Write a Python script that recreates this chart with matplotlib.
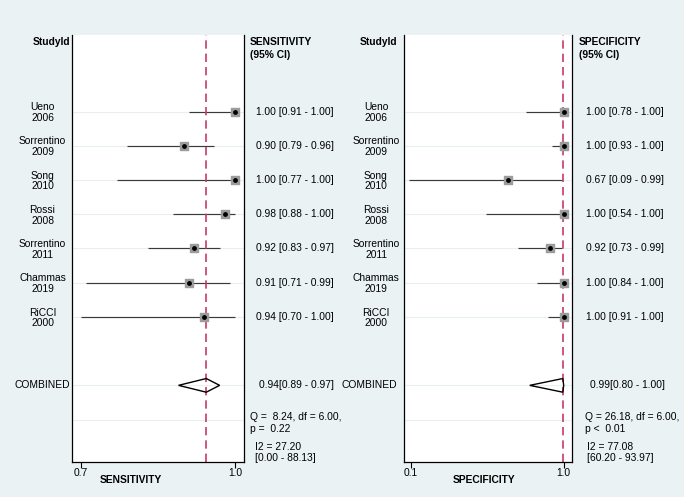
import numpy as np
import matplotlib.pyplot as plt
from matplotlib.transforms import blended_transform_factory

plt.rcParams['font.family'] = ['Liberation Sans', 'DejaVu Sans']

# dados dos estudos
studies = ["Ueno\n2006", "Sorrentino\n2009", "Song\n2010", "Rossi\n2008",
           "Sorrentino\n2011", "Chammas\n2019", "RiCCI\n2000"]

sens = [1.00, 0.90, 1.00, 0.98, 0.92, 0.91, 0.94]
sens_lo = [0.91, 0.79, 0.77, 0.88, 0.83, 0.71, 0.70]
sens_hi = [1.00, 0.96, 1.00, 1.00, 0.97, 0.99, 1.00]
sens_comb = [0.944, 0.89, 0.97]
sens_txt = ["1.00 [0.91 - 1.00]", "0.90 [0.79 - 0.96]", "1.00 [0.77 - 1.00]",
            "0.98 [0.88 - 1.00]", "0.92 [0.83 - 0.97]", "0.91 [0.71 - 0.99]",
            "0.94 [0.70 - 1.00]"]
sens_comb_txt = "0.94[0.89 - 0.97]"
sens_q = "Q =  8.24, df = 6.00,\np =  0.22"
sens_i2 = "I2 = 27.20\n[0.00 - 88.13]"

spec = [1.00, 1.00, 0.67, 1.00, 0.92, 1.00, 1.00]
spec_lo = [0.78, 0.93, 0.09, 0.54, 0.73, 0.84, 0.91]
spec_hi = [1.00, 1.00, 0.99, 1.00, 0.99, 1.00, 1.00]
spec_comb = [0.995, 0.80, 1.00]
spec_txt = ["1.00 [0.78 - 1.00]", "1.00 [0.93 - 1.00]", "0.67 [0.09 - 0.99]",
            "1.00 [0.54 - 1.00]", "0.92 [0.73 - 0.99]", "1.00 [0.84 - 1.00]",
            "1.00 [0.91 - 1.00]"]
spec_comb_txt = "0.99[0.80 - 1.00]"
spec_q = "Q = 26.18, df = 6.00,\np <  0.01"
spec_i2 = "I2 = 77.08\n[60.20 - 93.97]"

W, H = 684, 497
bg = '#eaf2f3'
fs = 7.4

fig = plt.figure(figsize=(W / 100, H / 100), dpi=100, facecolor=bg)


def panel(x0, x1, xlim, ticks, est, lo, hi, comb, txt, comb_txt, qtxt, i2txt,
          title, xlabel, lab_x, lab_r, txt_x, head_x, q_x, i2_x, xlab_x):
    ax = fig.add_axes([x0 / W, 1 - 462 / H, (x1 - x0) / W, (462 - 35) / H])
    ax.set_xlim(*xlim)
    ax.set_ylim(10.24, -2.24)
    ax.set_facecolor('white')
    ax.spines['top'].set_visible(False)
    for s in ['left', 'right', 'bottom']:
        ax.spines[s].set_linewidth(0.9)
    ax.set_yticks([])
    ax.set_xticks(ticks)
    ax.set_xticklabels(["%.1f" % t for t in ticks], fontsize=fs)
    ax.tick_params(axis='x', length=4, width=0.8, pad=0.5)

    tr = blended_transform_factory(fig.transFigure, ax.transData)
    rows = np.arange(len(est))

    # linhas de fundo
    for r in list(rows) + [8, 9]:
        ax.axhline(r, color='#e9eeee', lw=0.8, zorder=0)

    ax.hlines(rows, lo, hi, color='#3a3a3a', lw=0.85, zorder=2)
    ax.scatter(est, rows, marker='s', s=30, color='#9c9c9c', zorder=3)
    ax.scatter(est, rows, marker='o', s=6, color='black', zorder=4)

    # diamante combinado
    c, cl, ch = comb
    ax.fill([cl, c, ch, c], [8, 8 - 0.2, 8, 8 + 0.2], facecolor='none',
            edgecolor='black', lw=1.0, zorder=3)
    ax.axvline(c, color='#c8396a', lw=1.2, ls=(0, (5, 3)), zorder=2.5)

    for r, lab, t in zip(rows, studies, txt):
        ax.text(lab_x / W, r + 0.03, lab, transform=tr, ha='center',
                va='center', fontsize=fs, linespacing=1.1)
        ax.text(txt_x / W, r, t, transform=tr, ha='left', va='center',
                fontsize=fs)

    ax.text(lab_r / W, 8, "COMBINED", transform=tr,
            ha='right', va='center', fontsize=fs)
    ax.text(txt_x / W + 3.5 / W, 8, comb_txt, transform=tr, ha='left',
            va='center', fontsize=fs)
    ax.text(q_x / W, 9.1, qtxt, transform=tr, ha='left', va='center',
            fontsize=fs, linespacing=1.15)
    ax.text(i2_x / W, 9.96, i2txt, transform=tr, ha='left', va='center',
            fontsize=fs, linespacing=1.05)

    ax.text(lab_r / W, -2.03, "StudyId", transform=tr, ha='right',
            va='center', fontsize=fs, fontweight='bold')
    ax.text(head_x / W, -2.03, title, transform=tr, ha='left', va='center',
            fontsize=fs, fontweight='bold')
    ax.text(head_x / W, -1.66, "(95% CI)", transform=tr, ha='left',
            va='center', fontsize=fs, fontweight='bold')

    fig.text(xlab_x / W, 1 - 480 / H, xlabel, ha='center', va='center',
             fontsize=fs, fontweight='bold')
    return ax


panel(72, 244, (0.6825, 1.0175), [0.7, 1.0], sens, sens_lo, sens_hi,
      sens_comb, sens_txt, sens_comb_txt, sens_q, sens_i2,
      "SENSITIVITY", "SENSITIVITY", 42.5, 70, 255.5, 250, 250, 255, 131)

panel(403.7, 572, (0.057, 1.049), [0.1, 1.0], spec, spec_lo, spec_hi,
      spec_comb, spec_txt, spec_comb_txt, spec_q, spec_i2,
      "SPECIFICITY", "SPECIFICITY", 376, 397, 586, 578.7, 584.7, 587, 484)

fig.savefig('out.png', dpi=100, facecolor=bg)
